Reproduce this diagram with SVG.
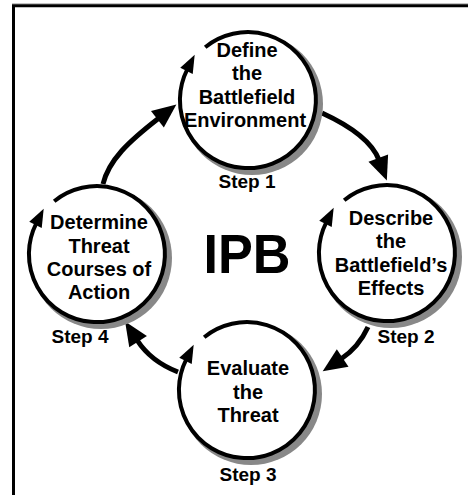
<svg xmlns="http://www.w3.org/2000/svg" width="468" height="495" viewBox="0 0 468 495">
<style>
.lbl{font-family:"Liberation Sans",Arial,Helvetica,sans-serif;font-weight:bold;font-size:20px;text-anchor:middle;fill:#000}
.step{font-family:"Liberation Sans",Arial,Helvetica,sans-serif;font-weight:bold;font-size:19px;text-anchor:middle;fill:#000}
.shadow{fill:#888}
.disc{fill:#fff;stroke:none}
.ring{fill:none;stroke:#000;stroke-width:4;marker-end:url(#small)}
.conn{fill:none;stroke:#000;stroke-width:5;marker-end:url(#big)}
</style>
<defs>
<marker id="small" markerUnits="userSpaceOnUse" markerWidth="18" markerHeight="14" refX="2" refY="7" orient="auto" overflow="visible">
<path d="M0,0 L18,7 L0,14 z" fill="#000"/>
</marker>
<marker id="big" markerUnits="userSpaceOnUse" markerWidth="24" markerHeight="21" refX="2" refY="10.5" orient="auto" overflow="visible">
<path d="M0,0 L24,10.5 L0,21 z" fill="#000"/>
</marker>
</defs>
<rect x="0" y="0" width="468" height="495" fill="#fff"/>
<g id="frame">
<line x1="12" y1="3.8" x2="468" y2="3.8" stroke="#aaa" stroke-width="1"/>
<path d="M13.5,500 V5.8 H470" fill="none" stroke="#000" stroke-width="3"/>
</g>
<g id="connectors">
<path class="conn" d="M103,184 C109,160 128,142 159,118"/>
<path class="conn" d="M322,113 C346,124 371,139 379,160"/>
<path class="conn" d="M368,327 C362,340 353,351 341,359"/>
<path class="conn" d="M178,372 C160,365 146,354 137,340"/>
</g>
<g id="step1">
<circle class="shadow" cx="252" cy="104" r="71"/>
<circle class="disc" cx="248" cy="100" r="68"/>
<path class="ring" d="M205.2,47.2 A68,68 0 1 1 187.4,69.1"/>
<text class="lbl" x="247" y="57">Define</text>
<text class="lbl" x="247" y="80.3">the</text>
<text class="lbl" x="247" y="103.6">Battlefield</text>
<text class="lbl" x="245" y="127">Environment</text>
<text class="step" x="247" y="188">Step 1</text>
</g>
<g id="step2">
<circle class="shadow" cx="391" cy="257" r="71"/>
<circle class="disc" cx="387" cy="253" r="68"/>
<path class="ring" d="M344.2,200.2 A68,68 0 1 1 326.4,222.1"/>
<text class="lbl" x="391" y="225">Describe</text>
<text class="lbl" x="391" y="248.3">the</text>
<text class="lbl" x="391" y="271.6">Battlefield’s</text>
<text class="lbl" x="391" y="295">Effects</text>
<text class="step" x="406" y="343">Step 2</text>
</g>
<g id="step3">
<circle class="shadow" cx="251" cy="394" r="71"/>
<circle class="disc" cx="247" cy="390" r="68"/>
<path class="ring" d="M204.2,337.2 A68,68 0 1 1 186.4,359.1"/>
<text class="lbl" x="248" y="375">Evaluate</text>
<text class="lbl" x="248" y="398.5">the</text>
<text class="lbl" x="248" y="422">Threat</text>
<text class="step" x="248" y="481">Step 3</text>
</g>
<g id="step4">
<circle class="shadow" cx="101" cy="258" r="71"/>
<circle class="disc" cx="97" cy="254" r="68"/>
<path class="ring" d="M54.2,201.2 A68,68 0 1 1 36.4,223.1"/>
<text class="lbl" x="99" y="229.3">Determine</text>
<text class="lbl" x="99" y="252.7">Threat</text>
<text class="lbl" x="99" y="276">Courses of</text>
<text class="lbl" x="99" y="299.3">Action</text>
<text class="step" x="80" y="343">Step 4</text>
</g>
<g id="title">
<text x="247" y="273" font-family="'Liberation Sans',Arial,Helvetica,sans-serif" font-weight="bold" font-size="56" text-anchor="middle" textLength="87" lengthAdjust="spacingAndGlyphs">IPB</text>
</g>
</svg>
